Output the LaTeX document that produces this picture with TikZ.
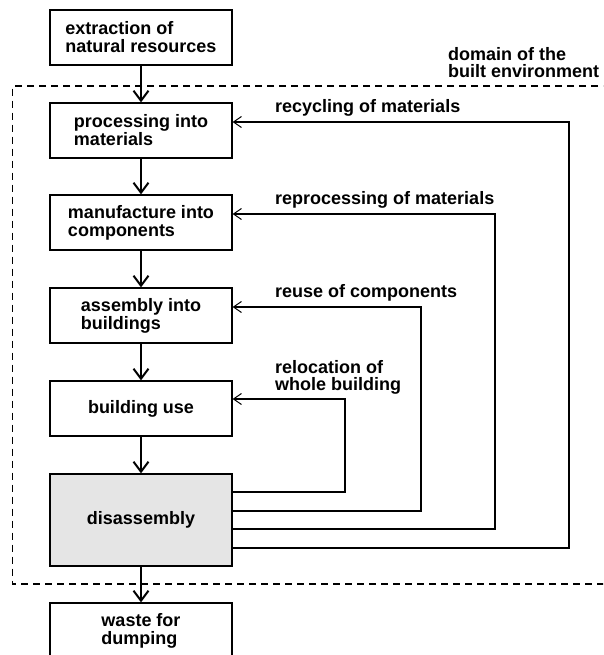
\documentclass[tikz,border=0pt]{standalone}
\usepackage{fontspec}
\setmainfont{Liberation Sans}
\usetikzlibrary{arrows.meta}
\begin{document}
\begin{tikzpicture}[x=1pt,y=1pt,
 box/.style={draw, line width=1.2pt, minimum width=182pt, minimum height=55pt, inner sep=0pt,
   font=\fontsize{18}{18}\selectfont\bfseries, align=left},
 down/.style={line width=2.3pt, -{Straight Barb[length=10pt,width=15pt,line width=2pt]}},
 ret/.style={line width=1.2pt, -{Straight Barb[length=8pt,width=11pt,line width=1pt]}},
 lbl/.style={font=\fontsize{18}{17}\selectfont\bfseries, align=left, inner sep=0pt},
 domainline/.style={line width=1.3pt, dash pattern=on 7pt off 5pt}]
\useasboundingbox (0,0) rectangle (603,-655);
\clip (0,0) rectangle (603,-655);

% dashed domain
\draw[domainline] (610,-86) -- (12.7,-86) -- (12.7,-584) -- (610,-584);
\node[lbl, anchor=base west] (dom) at (448,-78) {domain of the\\built environment};

% boxes
\node[box] (ext) at (141,-37.5) {extraction of\\natural resources};
\node[box] (proc) at (141,-130.5) {processing into\\materials};
\node[box] (man) at (141,-222.5) {manufacture into\\components};
\node[box] (ass) at (141,-315.5) {assembly into\\buildings};
\node[box] (use) at (141,-408.5) {building use};
\node[box, fill=black!10, minimum height=92pt] (dis) at (141,-520) {disassembly};
\node[box, minimum height=56pt] (waste) at (141,-631) {waste for\\dumping};

% down arrows
\draw[down] (ext) -- (proc);
\draw[down] (proc) -- (man);
\draw[down] (man) -- (ass);
\draw[down] (ass) -- (use);
\draw[down] (use) -- (dis);
\draw[down] (dis) -- (waste);

% return loops
\coordinate (k1) at (345,-492);
\coordinate (k2) at (421,-511);
\coordinate (k3) at (495,-529);
\coordinate (k4) at (569,-548);
\coordinate (t1) at (232,-399);
\coordinate (t2) at (232,-307);
\coordinate (t3) at (232,-214);
\coordinate (t4) at (232,-122);
\draw[ret] (k1 -| dis.east) -- (k1) |- (t1 -| use.east);
\draw[ret] (k2 -| dis.east) -- (k2) |- (t2 -| ass.east);
\draw[ret] (k3 -| dis.east) -- (k3) |- (t3 -| man.east);
\draw[ret] (k4 -| dis.east) -- (k4) |- (t4 -| proc.east);

% labels
\node[lbl, anchor=base west] (l4) at (275,-113) {recycling of materials};
\node[lbl, anchor=base west] (l3) at (275,-204) {reprocessing of materials};
\node[lbl, anchor=base west] (l2) at (275,-297) {reuse of components};
\node[lbl, anchor=base west] (l1) at (275,-390) {relocation of\\whole building};
\end{tikzpicture}
\end{document}
